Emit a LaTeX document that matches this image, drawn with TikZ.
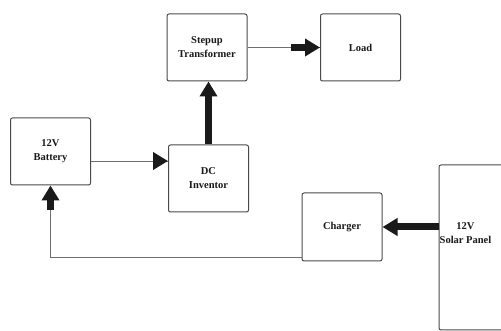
\documentclass[tikz,border=0pt]{standalone}
\usepackage{fontspec}
\setmainfont{Liberation Serif}
\usetikzlibrary{arrows.meta,calc}
\definecolor{ink}{HTML}{1A1A1A}
\definecolor{edge}{HTML}{4A4A4A}
\definecolor{wire}{HTML}{6E6E6E}
\newcommand{\lbl}{\fontsize{10.5}{14}\selectfont\bfseries}

\begin{document}
\begin{tikzpicture}[x=1pt,y=1pt,font=\lbl,
  block/.style={draw=edge,line width=1pt,rounded corners=2pt,minimum width=80pt,minimum height=67pt,align=center,text=ink,inner sep=0},
  wire/.style={draw=wire,line width=0.9pt},
  fat/.style={line width=7pt,ink,-{Triangle[length=15pt,width=17pt]}}]
\useasboundingbox (0,0) rectangle (501,331);
\fill[white] (0,0) rectangle (501,331);
\node[block] (trans) at (207,283.5) {Stepup\\Transformer};
\node[block] (load) at (360.5,283.5) {Load};
\node[block] (bat) at (50.5,179.5) {12V\\Battery};
\node[block] (dc) at (208.5,152.5) {DC\\Inventor};
\node[block,minimum height=68pt] (chg) at (342,104) {Charger};
\node[block,minimum width=91pt,minimum height=165pt] (solar) at (484.5,83.5) {};
\node[text=ink,align=center] (soltxt) at ([xshift=27,yshift=14.5]solar.west) {12V\\Solar Panel};
\coordinate (b1) at ([yshift=-9.5]bat.east);
\coordinate (b2) at (b1 -| dc.west);
\coordinate (c1) at ([yshift=4]chg.south west);
\coordinate (c2) at (c1 -| bat.south);
\coordinate (c3) at ([yshift=-25]bat.south);
\draw[wire] (trans.east) -- (load.west);
\draw[fat] ([xshift=-29]load.west) -- (load.west);
\draw[wire] (b1) -- (b2);
\draw[fat] ([xshift=-15]b2) -- (b2);
\draw[fat] (dc.north) -- (dc.north |- trans.south);
\draw[fat] (solar.west |- chg.east) -- (chg.east);
\draw[wire] (c1) -- (c2) -- (c3);
\draw[fat] (c3) -- (bat.south);
\end{tikzpicture}
\end{document}
